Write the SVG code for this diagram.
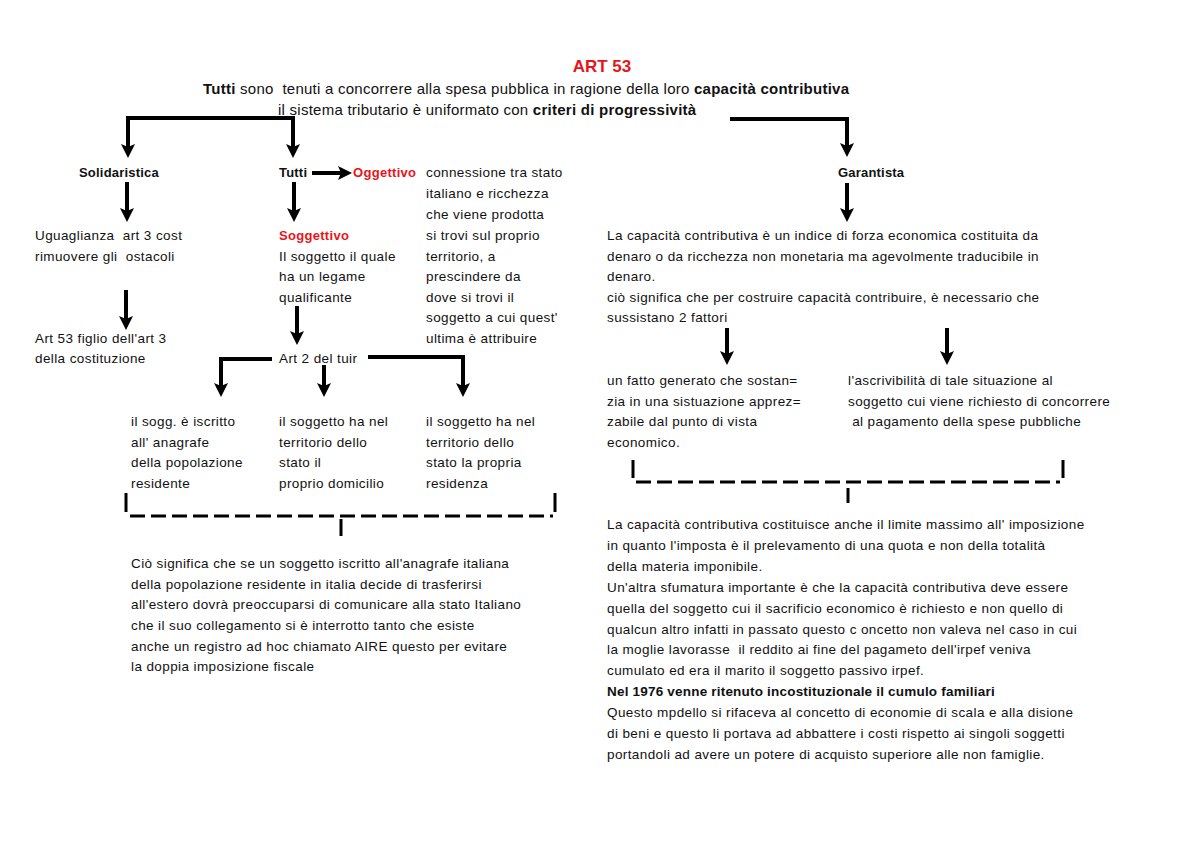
<svg xmlns="http://www.w3.org/2000/svg" width="1200" height="849" viewBox="0 0 1200 849">
<style>
text{font-family:"Liberation Sans",Arial,sans-serif;font-size:13.5px;letter-spacing:0.4px;fill:#111;white-space:pre}
.b{font-weight:bold;font-size:13px;letter-spacing:0.2px}
.r{fill:#e8141b;font-weight:bold;font-size:13px;letter-spacing:0.3px}
.t{font-size:15px;letter-spacing:0.25px}
.t .b{font-size:15px;letter-spacing:0.25px}
.nb{font-weight:bold;font-size:13.5px;letter-spacing:0.2px}
.ttl{font-size:17px;font-weight:bold;fill:#e8141b;letter-spacing:0}
.c{fill:none;stroke:#000;stroke-width:4}
.br{fill:none;stroke:#000;stroke-width:3}
.dash{fill:none;stroke:#000;stroke-width:3;stroke-dasharray:15 6}
</style>
<defs>
<marker id="ah" viewBox="0 0 14 14" refX="6" refY="7" markerWidth="14" markerHeight="14" markerUnits="userSpaceOnUse" orient="auto-start-reverse">
<path d="M0,0 L14,7 L0,14 L3,7 z" fill="#000"/>
</marker>
</defs>
<rect width="1200" height="849" fill="#fff"/>
<g id="title">
<text class="ttl" x="602" y="72" text-anchor="middle">ART 53</text>
<text class="t" x="203" y="94"><tspan class="b">Tutti</tspan> sono  tenuti a concorrere alla spesa pubblica in ragione della loro <tspan class="b">capacità contributiva</tspan></text>
<text class="t" x="278" y="115">il sistema tributario è uniformato con <tspan class="b">criteri di progressività</tspan></text>
</g>
<g id="connectors">
<path class="c" d="M128,150 V118 H293 V150" marker-start="url(#ah)" marker-end="url(#ah)"/>
<path class="c" d="M730,119 H847 V149" marker-end="url(#ah)"/>
<path class="c" d="M127,182 V214" marker-end="url(#ah)"/>
<path class="c" d="M126,290 V322" marker-end="url(#ah)"/>
<path class="c" d="M294,182 V214" marker-end="url(#ah)"/>
<path class="c" d="M312,173 H344" marker-end="url(#ah)"/>
<path class="c" d="M847,183 V214" marker-end="url(#ah)"/>
<path class="c" d="M297,306 V337" marker-end="url(#ah)"/>
<path class="c" d="M272,359 H221 V389" marker-end="url(#ah)"/>
<path class="c" d="M324,365 V389" marker-end="url(#ah)"/>
<path class="c" d="M368,357 H463 V389" marker-end="url(#ah)"/>
<path class="c" d="M727,328 V357" marker-end="url(#ah)"/>
<path class="c" d="M947,328 V357" marker-end="url(#ah)"/>
<path class="br" d="M126,493 V512"/>
<path class="dash" d="M130,516 H553"/>
<path class="br" d="M555,493 V512"/>
<path class="br" d="M341,519 V536"/>
<path class="br" d="M633,460 V478"/>
<path class="dash" d="M636,482 H1060"/>
<path class="br" d="M1063,460 V478"/>
<path class="br" d="M848,488 V503"/>
</g>
<g id="solidaristica"><text class="b" x="79" y="177">Solidaristica</text></g>
<g id="uguaglianza">
<text x="35" y="240">Uguaglianza  art 3 cost</text>
<text x="35" y="261">rimuovere gli  ostacoli</text>
</g>
<g id="art53figlio">
<text x="35" y="343">Art 53 figlio dell'art 3</text>
<text x="35" y="363">della costituzione</text>
</g>
<g id="tutti"><text class="b" x="279" y="177">Tutti</text></g>
<g id="oggettivo"><text class="r" x="353" y="177">Oggettivo</text></g>
<g id="oggettivo-desc">
<text x="426" y="177">connessione tra stato</text>
<text x="426" y="198">italiano e ricchezza</text>
<text x="426" y="219">che viene prodotta</text>
<text x="426" y="240">si trovi sul proprio</text>
<text x="426" y="261">territorio, a</text>
<text x="426" y="281">prescindere da</text>
<text x="426" y="302">dove si trovi il</text>
<text x="426" y="322">soggetto a cui quest'</text>
<text x="426" y="343">ultima è attribuire</text>
</g>
<g id="soggettivo">
<text class="r" x="279" y="240">Soggettivo</text>
<text x="279" y="261">Il soggetto il quale</text>
<text x="279" y="281">ha un legame</text>
<text x="279" y="302">qualificante</text>
</g>
<g id="art2tuir"><text x="279" y="363">Art 2 del tuir</text></g>
<g id="anagrafe">
<text x="131" y="426">il sogg. è iscritto</text>
<text x="131" y="447">all' anagrafe</text>
<text x="131" y="467">della popolazione</text>
<text x="131" y="488">residente</text>
</g>
<g id="domicilio">
<text x="279" y="426">il soggetto ha nel</text>
<text x="279" y="447">territorio dello</text>
<text x="279" y="467">stato il</text>
<text x="279" y="488">proprio domicilio</text>
</g>
<g id="residenza">
<text x="426" y="426">il soggetto ha nel</text>
<text x="426" y="447">territorio dello</text>
<text x="426" y="467">stato la propria</text>
<text x="426" y="488">residenza</text>
</g>
<g id="cio-significa">
<text x="131" y="568">Ciò significa che se un soggetto iscritto all'anagrafe italiana</text>
<text x="131" y="589">della popolazione residente in italia decide di trasferirsi</text>
<text x="131" y="609">all'estero dovrà preoccuparsi di comunicare alla stato Italiano</text>
<text x="131" y="630">che il suo collegamento si è interrotto tanto che esiste</text>
<text x="131" y="651">anche un registro ad hoc chiamato AIRE questo per evitare</text>
<text x="131" y="671">la doppia imposizione fiscale</text>
</g>
<g id="garantista"><text class="b" x="838" y="177">Garantista</text></g>
<g id="capacita">
<text x="607" y="240">La capacità contributiva è un indice di forza economica costituita da</text>
<text x="607" y="261">denaro o da ricchezza non monetaria ma agevolmente traducibile in</text>
<text x="607" y="281">denaro.</text>
<text x="607" y="302">ciò significa che per costruire capacità contribuire, è necessario che</text>
<text x="607" y="322">sussistano 2 fattori</text>
</g>
<g id="fatto">
<text x="607" y="385">un fatto generato che sostan=</text>
<text x="607" y="406">zia in una sistuazione apprez=</text>
<text x="607" y="426">zabile dal punto di vista</text>
<text x="607" y="447">economico.</text>
</g>
<g id="ascrivibilita">
<text x="848" y="385">l'ascrivibilità di tale situazione al</text>
<text x="848" y="406">soggetto cui viene richiesto di concorrere</text>
<text x="848" y="426"> al pagamento della spese pubbliche</text>
</g>
<g id="limite">
<text x="607" y="529">La capacità contributiva costituisce anche il limite massimo all' imposizione</text>
<text x="607" y="550">in quanto l'imposta è il prelevamento di una quota e non della totalità</text>
<text x="607" y="571">della materia imponibile.</text>
<text x="607" y="592">Un'altra sfumatura importante è che la capacità contributiva deve essere</text>
<text x="607" y="613">quella del soggetto cui il sacrificio economico è richiesto e non quello di</text>
<text x="607" y="634">qualcun altro infatti in passato questo c oncetto non valeva nel caso in cui</text>
<text x="607" y="654">la moglie lavorasse  il reddito ai fine del pagameto dell'irpef veniva</text>
<text x="607" y="675">cumulato ed era il marito il soggetto passivo irpef.</text>
<text class="nb" x="607" y="696">Nel 1976 venne ritenuto incostituzionale il cumulo familiari</text>
<text x="607" y="717">Questo mpdello si rifaceva al concetto di economie di scala e alla disione</text>
<text x="607" y="738">di beni e questo li portava ad abbattere i costi rispetto ai singoli soggetti</text>
<text x="607" y="759">portandoli ad avere un potere di acquisto superiore alle non famiglie.</text>
</g>
</svg>
